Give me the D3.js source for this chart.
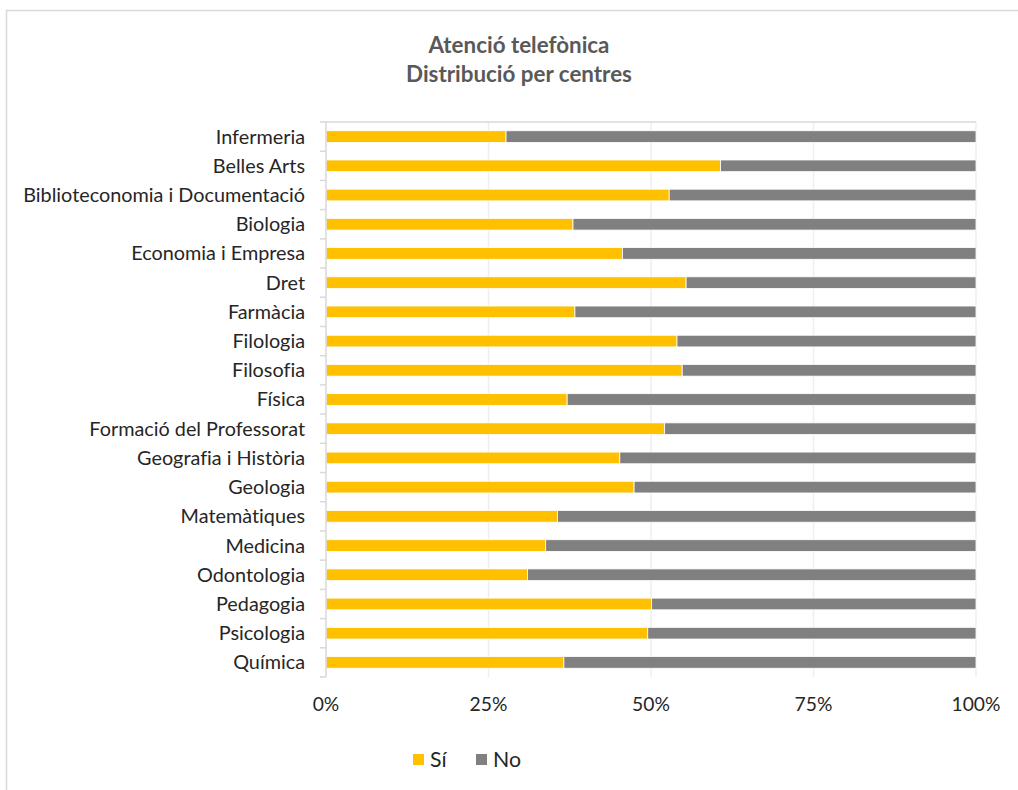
<!DOCTYPE html>
<meta charset="utf-8">
<style>
body { margin: 0; background: #fff; }
text { font-family: Lato, "Open Sans", sans-serif; font-variant-ligatures: none; }
.cat text { fill: #262626; }
.xlab { fill: #262626; }
.title { font-weight: bold; fill: #595959; }
</style>
<body>
<script src="https://d3js.org/d3.v7.min.js"></script>
<script>

// categories, top to bottom
var categories = ["Infermeria", "Belles Arts", "Biblioteconomia i Documentació", "Biologia",
  "Economia i Empresa", "Dret", "Farmàcia", "Filologia", "Filosofia", "Física",
  "Formació del Professorat", "Geografia i Història", "Geologia", "Matemàtiques",
  "Medicina", "Odontologia", "Pedagogia", "Psicologia", "Química"];

// share of "Sí" answers, the rest is "No"
var si = [0.277, 0.607, 0.528, 0.380, 0.456, 0.554, 0.383, 0.540, 0.548, 0.371,
  0.521, 0.452, 0.474, 0.356, 0.338, 0.310, 0.501, 0.495, 0.366];
var no = si.map(function(d) { return 1 - d; });

var seriesNames = ["Sí", "No"];
var colors = ["#FFC000", "#808080"];
var ticks = [0, 0.25, 0.5, 0.75, 1];

var W = 1018, H = 790;
var margin = {top: 122, left: 326, right: 42, bottom: 113};
var width = W - margin.left - margin.right,
    height = H - margin.top - margin.bottom;

var svg = d3.select("body").append("svg")
    .attr("width", W)
    .attr("height", H);

// scale a text selection's font so that its widest item gets a given width
function fitFont(sel, target) {
  sel.style("font-size", "16px");
  var w = 0;
  sel.each(function() { w = Math.max(w, this.getComputedTextLength()); });
  sel.style("font-size", (16 * target / w) + "px");
}

// chart frame (only top and left edges visible)
svg.append("path")
    .attr("d", "M6.5," + H + "V10.5H" + W)
    .attr("fill", "none").attr("stroke", "#d9d9d9").attr("stroke-width", 1.5);

var t1 = svg.append("text").attr("class", "title")
    .attr("x", 519).attr("y", 53).attr("text-anchor", "middle")
    .text("Atenció telefònica");
fitFont(t1, 181);
var t2 = svg.append("text").attr("class", "title")
    .attr("x", 519).attr("y", 82).attr("text-anchor", "middle")
    .text("Distribució per centres");
t2.style("font-size", t1.style("font-size"));

var g = svg.append("g")
    .attr("transform", "translate(" + margin.left + "," + margin.top + ")");

var x = d3.scaleLinear().domain([0, 1]).range([0, width]);
var y = d3.scaleBand().domain(categories).range([0, height]).paddingInner(0.6).paddingOuter(0.3);
var step = y.step();

// gridlines
g.selectAll(".grid")
    .data(ticks.slice(1))
  .enter().append("line")
    .attr("x1", function(d) { return x(d); })
    .attr("x2", function(d) { return x(d); })
    .attr("y1", 0).attr("y2", height)
    .attr("stroke", "#eeeeee").attr("stroke-width", 1.5);

// stacked bars
var rows = categories.map(function(c, i) { return {cat: c, si: si[i], no: no[i]}; });
var stack = d3.stack().keys(["si", "no"])(rows);

g.selectAll(".series")
    .data(stack)
  .enter().append("g")
    .attr("fill", function(d, i) { return colors[i]; })
  .selectAll("rect")
    .data(function(d) { return d; })
  .enter().append("rect")
    .attr("x", function(d) { return x(d[0]); })
    .attr("width", function(d) { return x(d[1]) - x(d[0]); })
    .attr("y", function(d) { return y(d.data.cat); })
    .attr("height", y.bandwidth())
    .attr("stroke", "#fff").attr("stroke-width", 0.8);

// y axis
var yAxis = g.append("g").attr("class", "cat")
    .call(d3.axisLeft(y).tickSize(0).tickPadding(21));
yAxis.select(".domain").remove();
yAxis.selectAll("text").attr("dy", "0.35em").attr("font-family", null);
fitFont(yAxis.selectAll("text"), 282);

g.append("line")
    .attr("x1", 0).attr("x2", 0).attr("y1", 0).attr("y2", height)
    .attr("stroke", "#d9d9d9").attr("stroke-width", 1.5);
g.selectAll(".ytick")
    .data(d3.range(categories.length + 1))
  .enter().append("line")
    .attr("x1", -6).attr("x2", 0)
    .attr("y1", function(d) { return d * step; })
    .attr("y2", function(d) { return d * step; })
    .attr("stroke", "#d9d9d9").attr("stroke-width", 1.5);
g.append("line")
    .attr("x1", -1).attr("x2", width).attr("y1", 0).attr("y2", 0)
    .attr("stroke", "#d9d9d9").attr("stroke-width", 1.5);

// x tick labels
var xl = g.selectAll(".xlab")
    .data(ticks)
  .enter().append("text")
    .attr("class", "xlab")
    .attr("x", function(d) { return x(d); })
    .attr("y", height + 34)
    .attr("text-anchor", "middle")
    .text(d3.format(".0%"));
fitFont(xl, 49);

// legend
var leg = svg.append("g").selectAll("g")
    .data(seriesNames)
  .enter().append("g")
    .attr("transform", function(d, i) { return "translate(" + (413 + i * 63) + ",754)"; });
leg.append("rect")
    .attr("width", 11).attr("height", 11)
    .attr("fill", function(d, i) { return colors[i]; });
var lt = leg.append("text")
    .attr("class", "xlab")
    .attr("x", 17).attr("y", 6).attr("dy", "0.35em")
    .text(function(d) { return d; });
fitFont(lt, 28);

</script>
</body>
